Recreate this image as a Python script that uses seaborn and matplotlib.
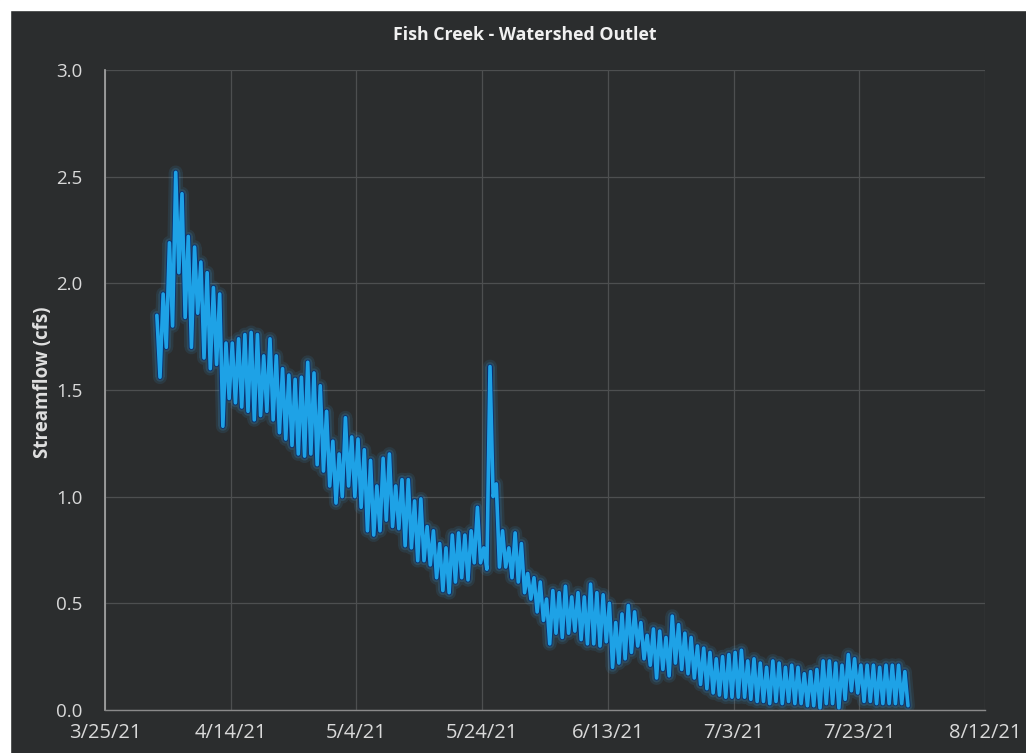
import numpy as np
import pandas as pd
import matplotlib
matplotlib.use("Agg")
import matplotlib.pyplot as plt
import seaborn as sns
from matplotlib.patches import Rectangle

# ---------------- data ----------------
start_date = "2021-04-02"
daily_high = [1.85, 1.95, 2.19, 2.52, 2.42, 2.22, 2.17, 2.10, 2.05, 1.98,
              1.95, 1.72, 1.72, 1.74, 1.76, 1.77, 1.76, 1.66, 1.74, 1.66,
              1.60, 1.57, 1.55, 1.56, 1.63, 1.58, 1.52, 1.40, 1.26, 1.20,
              1.37, 1.28, 1.27, 1.22, 1.17, 1.05, 1.18, 1.20, 1.05, 1.08,
              1.08, 0.98, 0.99, 0.86, 0.84, 0.78, 0.76, 0.82, 0.83, 0.82,
              0.84, 0.95, 0.76, 1.61, 1.06, 0.84, 0.76, 0.83, 0.78, 0.64,
              0.62, 0.60, 0.52, 0.56, 0.55, 0.58, 0.53, 0.55, 0.53, 0.59,
              0.55, 0.54, 0.50, 0.41, 0.45, 0.49, 0.46, 0.41, 0.35, 0.38,
              0.37, 0.34, 0.44, 0.40, 0.36, 0.34, 0.30, 0.29, 0.27, 0.24,
              0.25, 0.26, 0.27, 0.28, 0.23, 0.24, 0.22, 0.20, 0.23, 0.22,
              0.20, 0.21, 0.20, 0.17, 0.18, 0.19, 0.23, 0.23, 0.22, 0.21,
              0.26, 0.24, 0.21, 0.21, 0.21, 0.20, 0.21, 0.21, 0.21, 0.18]
daily_low = [1.56, 1.70, 1.80, 2.05, 1.84, 1.70, 1.86, 1.65, 1.60, 1.62,
             1.33, 1.46, 1.44, 1.42, 1.40, 1.36, 1.38, 1.40, 1.36, 1.30,
             1.27, 1.24, 1.20, 1.19, 1.20, 1.15, 1.12, 1.05, 0.97, 1.00,
             1.05, 1.00, 0.95, 0.84, 0.82, 0.84, 0.89, 0.86, 0.85, 0.77,
             0.76, 0.70, 0.70, 0.68, 0.62, 0.56, 0.55, 0.60, 0.62, 0.61,
             0.69, 0.69, 0.66, 1.00, 0.67, 0.67, 0.62, 0.60, 0.55, 0.52,
             0.46, 0.42, 0.31, 0.36, 0.34, 0.36, 0.37, 0.33, 0.31, 0.31,
             0.30, 0.32, 0.20, 0.22, 0.24, 0.27, 0.30, 0.24, 0.21, 0.15,
             0.19, 0.16, 0.22, 0.19, 0.17, 0.15, 0.12, 0.10, 0.08, 0.07,
             0.06, 0.06, 0.06, 0.06, 0.05, 0.04, 0.04, 0.03, 0.04, 0.03,
             0.04, 0.03, 0.03, 0.02, 0.02, 0.01, 0.03, 0.03, 0.01, 0.05,
             0.09, 0.08, 0.04, 0.04, 0.03, 0.03, 0.03, 0.03, 0.03, 0.02]
x_tick_dates = ["2021-03-25", "2021-04-14", "2021-05-04", "2021-05-24",
                "2021-06-13", "2021-07-03", "2021-07-23", "2021-08-12"]
x_tick_labels = ["3/25/21", "4/14/21", "5/4/21", "5/24/21",
                 "6/13/21", "7/3/21", "7/23/21", "8/12/21"]
y_ticks = [0.0, 0.5, 1.0, 1.5, 2.0, 2.5, 3.0]
y_tick_labels = ["0.0", "0.5", "1.0", "1.5", "2.0", "2.5", "3.0"]
title = "Fish Creek - Watershed Outlet"
y_label = "Streamflow (cfs)"

# ---------------- build table ----------------
days = pd.date_range(start_date, periods=len(daily_high), freq="D")
times, flows = [], []
for d, hi, lo in zip(days, daily_high, daily_low):
    times += [d + pd.Timedelta(hours=6), d + pd.Timedelta(hours=18)]
    flows += [hi, lo]
df = pd.DataFrame({"time": times, "flow": flows})

# ---------------- style ----------------
bg = "#2b2d2e"
txt = "#d9d9d9"
sns.set_theme(style="dark")
plt.rcParams["font.family"] = ["Open Sans", "DejaVu Sans"]

fig = plt.figure(figsize=(10.26, 7.53), dpi=100, facecolor=bg)
ax = fig.add_axes([105 / 1026, 1 - 710 / 753, 880 / 1026, 640 / 753])
ax.set_facecolor(bg)

# glow + outline + main line
sns.lineplot(data=df, x="time", y="flow", ax=ax, color="#3a9ad8",
             linewidth=10, alpha=0.12, legend=False)
sns.lineplot(data=df, x="time", y="flow", ax=ax, color="#3a9ad8",
             linewidth=6.5, alpha=0.18, legend=False)
sns.lineplot(data=df, x="time", y="flow", ax=ax, color="#0b2f6e",
             linewidth=3.8, legend=False)
sns.lineplot(data=df, x="time", y="flow", ax=ax, color="#1ea2e6",
             linewidth=2.6, legend=False)

ax.set_xlim(pd.Timestamp(x_tick_dates[0]), pd.Timestamp(x_tick_dates[-1]))
ax.set_ylim(0, 3.0)
ax.set_xticks(pd.to_datetime(x_tick_dates))
ax.set_xticklabels(x_tick_labels)
ax.set_yticks(y_ticks)
ax.set_yticklabels(y_tick_labels)
ax.tick_params(axis="x", colors=txt, labelsize=14.5, length=0, pad=9)
ax.tick_params(axis="y", colors=txt, labelsize=13.5, length=0, pad=16)
ax.set_xlabel("")
ax.set_ylabel("")
ax.grid(True, color="#4d4f50", linewidth=0.9)
ax.set_axisbelow(True)
for side in ["top", "right"]:
    ax.spines[side].set_visible(False)
ax.spines["left"].set_color("#a8a8a8")
ax.spines["left"].set_linewidth(1.2)
ax.spines["bottom"].set_color("#8a8a8a")
ax.spines["bottom"].set_linewidth(1.0)

fig.text(525 / 1026, 1 - 35 / 753, title, ha="center", va="center",
         color="#f0f0f0", fontsize=12.8, fontweight="bold")
fig.text(43 / 1026, 1 - 382 / 753, y_label, ha="center", va="center",
         rotation=90, color="#e0e0e0", fontsize=13.5, fontweight="bold")

# white scan border (top and left)
fig.patches.append(Rectangle((0, 1 - 10 / 753), 1, 10 / 753,
                             transform=fig.transFigure, color="white", zorder=10))
fig.patches.append(Rectangle((0, 0), 10 / 1026, 1,
                             transform=fig.transFigure, color="white", zorder=10))

fig.savefig("out.png", dpi=100, facecolor=bg)
